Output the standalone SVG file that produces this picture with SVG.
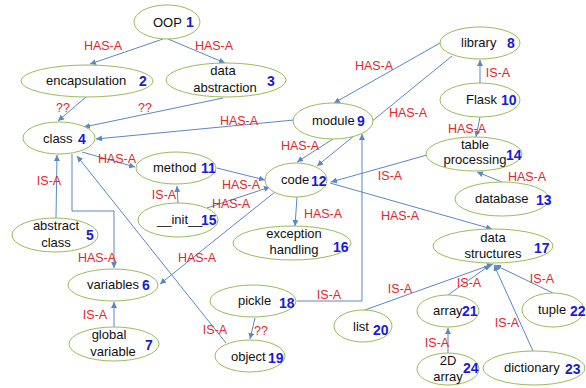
<svg xmlns="http://www.w3.org/2000/svg" width="586" height="388" viewBox="0 0 586 388">
<style>
.nd ellipse{fill:#fff;stroke:#9bbb59;stroke-width:1}
.t{font-family:"Liberation Sans",Arial,sans-serif;font-size:13px;fill:#111}
.n{font-family:"Liberation Sans",Arial,sans-serif;font-size:14px;font-weight:bold;fill:#1a1ad8}
.e path{fill:none;stroke:#5b87c5;stroke-width:1;marker-end:url(#ah)}
.l{font-family:"Liberation Sans",Arial,sans-serif;font-size:12.5px;fill:#e5252a;text-anchor:middle}
.c{text-anchor:middle}
</style>
<defs>
<marker id="ah" viewBox="0 0 10 10" refX="10" refY="5" markerWidth="6" markerHeight="6" markerUnits="userSpaceOnUse" orient="auto">
<path d="M0,0 L10,5 L0,10 z" fill="#5b87c5"/>
</marker>
</defs>
<rect width="586" height="388" fill="#fff"/>
<g id="edges" class="e">
<path d="M163,39 L90,64"/>
<path d="M168,39 L225,63"/>
<path d="M86,97 L58,121"/>
<path d="M223,98 L84,127"/>
<path d="M294,120 L96,139"/>
<path d="M82,152 L135,167"/>
<path d="M440,43 L334,103"/>
<path d="M452,56 L317,166"/>
<path d="M333,139 L297,162"/>
<path d="M480,83 L480,60"/>
<path d="M480,117 L476,137"/>
<path d="M427,155 L331,182"/>
<path d="M502,182 L477,172"/>
<path d="M330,183 L492,229"/>
<path d="M297,197 L295,226"/>
<path d="M217,168 L265,180"/>
<path d="M207,208 L270,187"/>
<path d="M178,203 L177,186"/>
<path d="M275,192 L160,284"/>
<path d="M56,218 L57,155"/>
<path d="M72,154 L72,211 L114,211 L114,268"/>
<path d="M114,327 L114,302"/>
<path d="M226,343 L77,156"/>
<path d="M255,318 L250,339"/>
<path d="M297,301 L362,301 L362,134"/>
<path d="M362,311 L493,264"/>
<path d="M448,295 L490,265"/>
<path d="M553,293 L495,265"/>
<path d="M533,351 L494,265"/>
<path d="M448,353 L448,328"/>
</g>
<g id="edge-labels">
<text class="l" x="103" y="50">HAS-A</text>
<text class="l" x="214" y="50">HAS-A</text>
<text class="l" x="63" y="112">??</text>
<text class="l" x="145" y="112">??</text>
<text class="l" x="239" y="125">HAS-A</text>
<text class="l" x="117" y="163">HAS-A</text>
<text class="l" x="374" y="70">HAS-A</text>
<text class="l" x="408" y="117">HAS-A</text>
<text class="l" x="300" y="150">HAS-A</text>
<text class="l" x="498" y="77">IS-A</text>
<text class="l" x="467" y="133">HAS-A</text>
<text class="l" x="390" y="180">IS-A</text>
<text class="l" x="527" y="181">HAS-A</text>
<text class="l" x="400" y="220">HAS-A</text>
<text class="l" x="323" y="218">HAS-A</text>
<text class="l" x="241" y="189">HAS-A</text>
<text class="l" x="231" y="208">HAS-A</text>
<text class="l" x="164" y="199">IS-A</text>
<text class="l" x="197" y="262">HAS-A</text>
<text class="l" x="49" y="185">IS-A</text>
<text class="l" x="97" y="262">HAS-A</text>
<text class="l" x="95" y="319">IS-A</text>
<text class="l" x="215" y="334">IS-A</text>
<text class="l" x="261" y="335">??</text>
<text class="l" x="329" y="299">IS-A</text>
<text class="l" x="400" y="293">IS-A</text>
<text class="l" x="469" y="287">IS-A</text>
<text class="l" x="542" y="283">IS-A</text>
<text class="l" x="507" y="327">IS-A</text>
<text class="l" x="437" y="347">IS-A</text>
</g>
<g id="n1" class="nd"><ellipse cx="167" cy="22" rx="33" ry="17"/><text class="t" x="153" y="27">OOP</text><text class="n" x="186" y="27">1</text></g>
<g id="n2" class="nd"><ellipse cx="87" cy="81" rx="66" ry="16"/><text class="t" x="46" y="85">encapsulation</text><text class="n" x="139" y="86">2</text></g>
<g id="n3" class="nd"><ellipse cx="226" cy="80" rx="60" ry="17"/><text class="t c" x="223" y="75">data</text><text class="t c" x="225" y="92">abstraction</text><text class="n" x="267" y="86">3</text></g>
<g id="n4" class="nd"><ellipse cx="59" cy="138" rx="36" ry="16"/><text class="t" x="43" y="143">class</text><text class="n" x="78" y="144">4</text></g>
<g id="n5" class="nd"><ellipse cx="55" cy="235" rx="43" ry="17"/><text class="t c" x="56" y="230">abstract</text><text class="t c" x="56" y="247">class</text><text class="n" x="86" y="240">5</text></g>
<g id="n6" class="nd"><ellipse cx="113" cy="285" rx="45" ry="16"/><text class="t" x="87" y="289">variables</text><text class="n" x="142" y="290">6</text></g>
<g id="n7" class="nd"><ellipse cx="114" cy="344" rx="45" ry="17"/><text class="t c" x="109" y="339">global</text><text class="t c" x="113" y="356">variable</text><text class="n" x="145" y="350">7</text></g>
<g id="n8" class="nd"><ellipse cx="480" cy="43" rx="40" ry="16"/><text class="t" x="461" y="47">library</text><text class="n" x="507" y="48">8</text></g>
<g id="n9" class="nd"><ellipse cx="333" cy="121" rx="40" ry="18"/><text class="t" x="312" y="125">module</text><text class="n" x="357" y="126">9</text></g>
<g id="n10" class="nd"><ellipse cx="480" cy="100" rx="40" ry="17"/><text class="t" x="466" y="104">Flask</text><text class="n" x="501" y="105">10</text></g>
<g id="n11" class="nd"><ellipse cx="176" cy="168" rx="40" ry="16"/><text class="t" x="153" y="172">method</text><text class="n" x="201" y="173">11</text></g>
<g id="n12" class="nd"><ellipse cx="296" cy="180" rx="31" ry="17"/><text class="t" x="281" y="184">code</text><text class="n" x="311" y="186">12</text></g>
<g id="n13" class="nd"><ellipse cx="502" cy="199" rx="47" ry="17"/><text class="t" x="475" y="203">database</text><text class="n" x="536" y="205">13</text></g>
<g id="n14" class="nd"><ellipse cx="474" cy="154" rx="48" ry="17"/><text class="t c" x="475" y="149">table</text><text class="t c" x="475" y="164">processing</text><text class="n" x="506" y="160">14</text></g>
<g id="n15" class="nd"><ellipse cx="178" cy="220" rx="40" ry="17"/><text class="t" x="157" y="224">__init__</text><text class="n" x="201" y="225">15</text></g>
<g id="n16" class="nd"><ellipse cx="292" cy="243" rx="59" ry="17"/><text class="t c" x="294" y="238">exception</text><text class="t c" x="294" y="254">handling</text><text class="n" x="333" y="252">16</text></g>
<g id="n17" class="nd"><ellipse cx="493" cy="246" rx="60" ry="17"/><text class="t c" x="493" y="242">data</text><text class="t c" x="493" y="258">structures</text><text class="n" x="534" y="253">17</text></g>
<g id="n18" class="nd"><ellipse cx="253" cy="301" rx="43" ry="16"/><text class="t" x="238" y="305">pickle</text><text class="n" x="279" y="308">18</text></g>
<g id="n19" class="nd"><ellipse cx="250" cy="356" rx="35" ry="16"/><text class="t" x="231" y="361">object</text><text class="n" x="268" y="363">19</text></g>
<g id="n20" class="nd"><ellipse cx="363" cy="326" rx="29" ry="16"/><text class="t" x="353" y="331">list</text><text class="n" x="373" y="335">20</text></g>
<g id="n21" class="nd"><ellipse cx="448" cy="311" rx="31" ry="16"/><text class="t" x="433" y="315">array</text><text class="n" x="462" y="316">21</text></g>
<g id="n22" class="nd"><ellipse cx="553" cy="310" rx="31" ry="17"/><text class="t" x="538" y="314">tuple</text><text class="n" x="570" y="316">22</text></g>
<g id="n23" class="nd"><ellipse cx="534" cy="368" rx="51" ry="17"/><text class="t" x="504" y="372">dictionary</text><text class="n" x="565" y="374">23</text></g>
<g id="n24" class="nd"><ellipse cx="448" cy="369" rx="31" ry="16"/><text class="t c" x="448" y="365">2D</text><text class="t c" x="448" y="381">array</text><text class="n" x="463" y="373">24</text></g>
</svg>
